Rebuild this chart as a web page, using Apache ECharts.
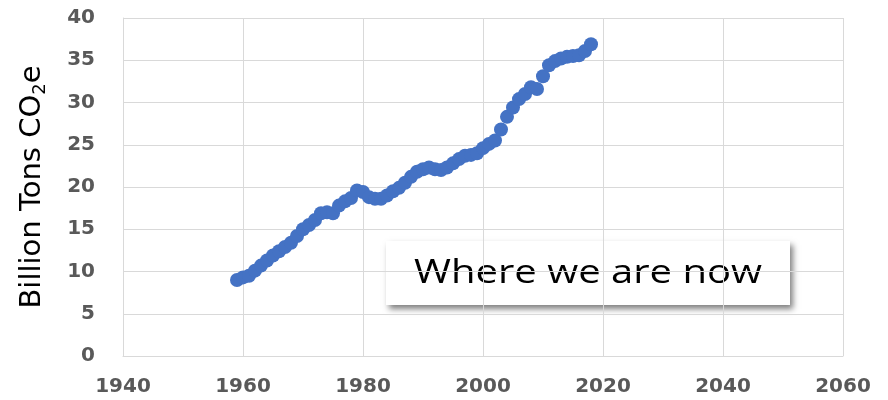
<!DOCTYPE html>
<html>
<head>
<meta charset="utf-8">
<script src="https://cdn.jsdelivr.net/npm/echarts@6/dist/echarts.min.js"></script>
<style>html,body{margin:0;padding:0;background:#fff}#c{width:888px;height:400px}</style>
</head>
<body>
<div id="c"></div>
<script>
const years = [1959,1960,1961,1962,1963,1964,1965,1966,1967,1968,1969,1970,1971,1972,1973,1974,1975,1976,1977,1978,1979,1980,1981,1982,1983,1984,1985,1986,1987,1988,1989,1990,1991,1992,1993,1994,1995,1996,1997,1998,1999,2000,2001,2002,2003,2004,2005,2006,2007,2008,2009,2010,2011,2012,2013,2014,2015,2016,2017,2018];
const emissions = [9.0,9.3,9.5,10.1,10.7,11.3,11.9,12.4,12.9,13.4,14.2,15.0,15.5,16.1,16.9,17.0,16.9,17.8,18.3,18.7,19.6,19.4,18.8,18.6,18.6,19.0,19.5,19.9,20.5,21.2,21.8,22.1,22.3,22.1,22.0,22.3,22.8,23.3,23.7,23.8,24.0,24.6,25.1,25.5,26.8,28.3,29.4,30.4,31.0,31.8,31.6,33.1,34.4,34.9,35.2,35.4,35.5,35.6,36.1,36.9];
const xTicks = [1940,1960,1980,2000,2020,2040,2060];
const yTicks = [0,5,10,15,20,25,30,35,40];
const yAxisTitle = 'Billion Tons CO';
const annotationText = 'Where we are now';

const chart = echarts.init(document.getElementById('c'), null, {renderer: 'canvas'});
const gridColor = '#d9d9d9';
const labelStyle = {color: '#595959', fontFamily: 'DejaVu Sans', fontWeight: 'bold', fontSize: 20};

chart.setOption({
  animation: false,
  grid: {left: 123, right: 45, top: 18, bottom: 44},
  xAxis: {
    type: 'value', min: xTicks[0], max: xTicks[xTicks.length-1], interval: xTicks[1]-xTicks[0],
    axisLine: {show: true, lineStyle: {color: gridColor}},
    axisTick: {show: false},
    splitLine: {show: true, lineStyle: {color: gridColor, width: 1}},
    axisLabel: Object.assign({margin: 21, formatter: v => String(v)}, labelStyle)
  },
  yAxis: {
    type: 'value', min: yTicks[0], max: yTicks[yTicks.length-1], interval: yTicks[1]-yTicks[0],
    axisLine: {show: true, lineStyle: {color: gridColor}},
    axisTick: {show: false},
    splitLine: {show: true, lineStyle: {color: gridColor, width: 1}},
    axisLabel: Object.assign({margin: 28}, labelStyle),
    name: '{t|' + yAxisTitle + '}{s|2}{t|e}',
    nameLocation: 'middle',
    nameRotate: 90,
    nameGap: 74,
    nameTextStyle: {
      rich: {
        t: {fontFamily: 'DejaVu Sans', fontSize: 29, color: '#000', lineHeight: 34},
        s: {fontFamily: 'DejaVu Sans', fontSize: 18, color: '#000', lineHeight: 34, verticalAlign: 'bottom'}
      }
    }
  },
  series: [{
    type: 'scatter',
    data: years.map((y, i) => [y, emissions[i]]),
    symbol: 'circle',
    symbolSize: 14,
    itemStyle: {color: '#4472C4', opacity: 1},
    z: 3
  }],
  graphic: [{
    type: 'group',
    left: 386, top: 241,
    z: 10,
    children: [{
      type: 'rect',
      shape: {x: 0, y: 0, width: 404, height: 64},
      style: {fill: '#fff', shadowColor: 'rgba(0,0,0,0.5)', shadowBlur: 6, shadowOffsetX: 3, shadowOffsetY: 4}
    }, {
      type: 'text',
      x: 202, y: 33,
      scaleX: 1.25,
      style: {text: annotationText, fontFamily: 'Open Sans', fontSize: 32, fill: '#000', textAlign: 'center', textVerticalAlign: 'middle'}
    }]
  }]
});
</script>
</body>
</html>
